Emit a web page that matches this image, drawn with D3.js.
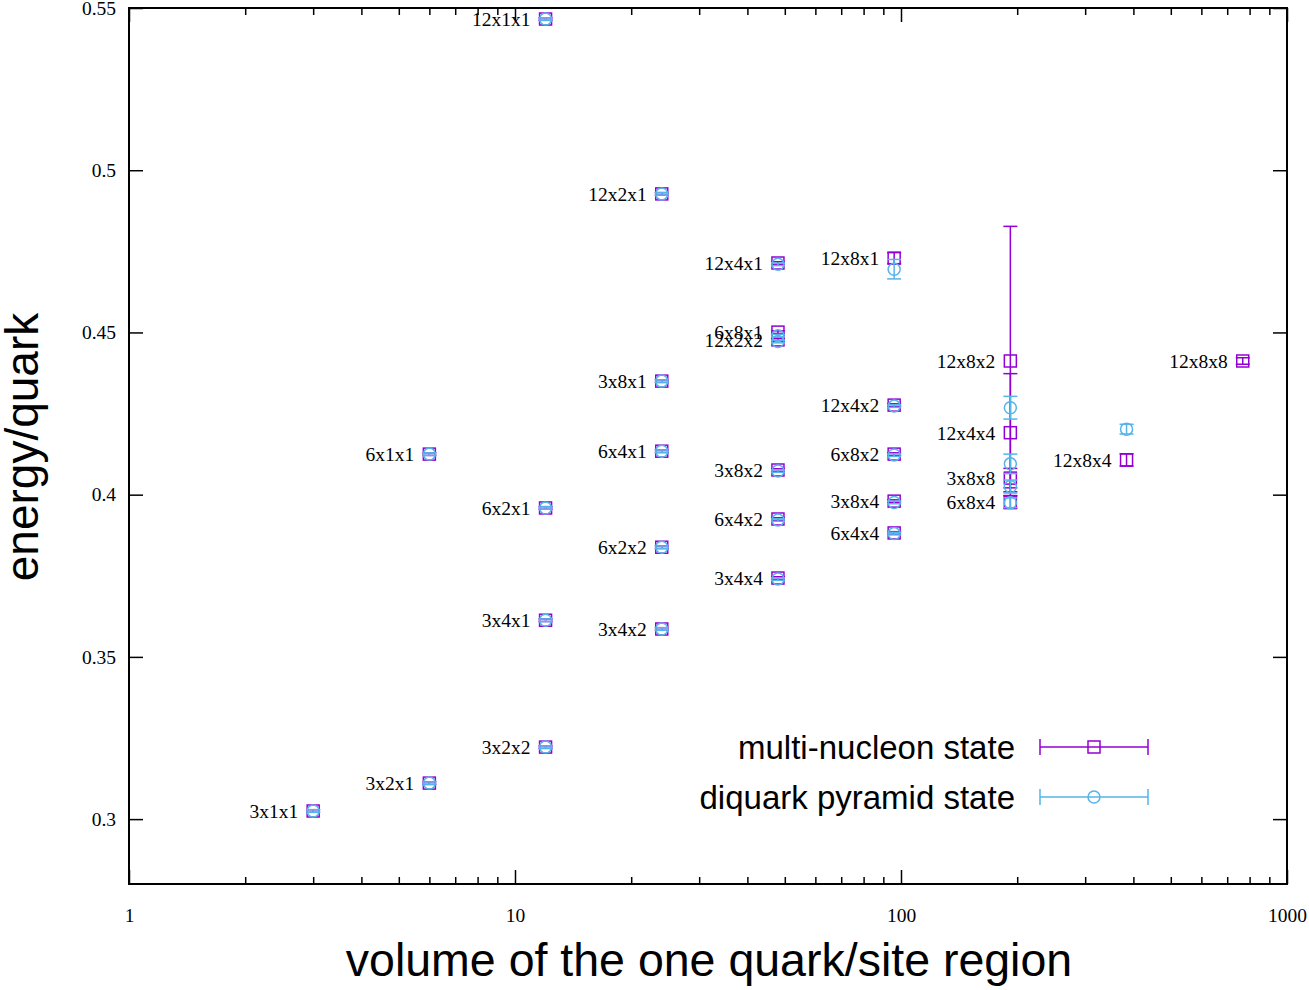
<!DOCTYPE html>
<html>
<head>
<meta charset="utf-8">
<script src="https://cdn.jsdelivr.net/npm/d3@7"></script>
<style>
  body { margin: 0; background: #fff; }
  svg { display: block; }
</style>
</head>
<body>
<svg id="chart" width="1309" height="990"></svg>
<script>
// lattice configurations, the volume of the one quark/site region
let configs = ["3x1x1", "3x2x1", "6x1x1", "12x1x1", "3x2x2", "6x2x1", "3x4x1",
               "12x2x1", "3x8x1", "6x4x1", "6x2x2", "3x4x2",
               "12x4x1", "6x8x1", "12x2x2", "3x8x2", "6x4x2", "3x4x4",
               "12x8x1", "12x4x2", "6x8x2", "3x8x4", "6x4x4",
               "12x8x2", "12x4x4", "3x8x8", "6x8x4",
               "12x8x4", "12x8x8"];
let volumes = [3, 6, 6, 12, 12, 12, 12,
               24, 24, 24, 24, 24,
               48, 48, 48, 48, 48, 48,
               96, 96, 96, 96, 96,
               192, 192, 192, 192,
               384, 768];
// multi-nucleon state
let multiE = [0.3025, 0.3111, 0.4125, 0.5466, 0.3222, 0.3959, 0.3613,
              0.4927, 0.4350, 0.4134, 0.3838, 0.3586,
              0.4714, 0.4501, 0.4477, 0.4076, 0.3925, 0.3743,
              0.4729, 0.4276, 0.4125, 0.3980, 0.3882,
              0.4412, 0.4191, 0.4051, 0.3977,
              0.4107, 0.4412];
let multiErr = [0.0004, 0.0004, 0.0004, 0.0004, 0.0004, 0.0004, 0.0004,
                0.0004, 0.0004, 0.0004, 0.0004, 0.0004,
                0.0004, 0.0004, 0.0004, 0.0004, 0.0004, 0.0004,
                0.0017, 0.0004, 0.0004, 0.0004, 0.0004,
                0.0415, 0.0182, 0.0030, 0.0020,
                0.0019, 0.0010];
// diquark pyramid state (none for 12x8x8)
let diqE = [0.3025, 0.3111, 0.4125, 0.5466, 0.3222, 0.3959, 0.3613,
            0.4927, 0.4350, 0.4134, 0.3838, 0.3586,
            0.4710, 0.4490, 0.4472, 0.4073, 0.3922, 0.3740,
            0.4695, 0.4273, 0.4122, 0.3976, 0.3880,
            0.4268, 0.4095, 0.4025, 0.3975,
            0.4202, null];
let diqErr = [0.0004, 0.0004, 0.0004, 0.0004, 0.0004, 0.0004, 0.0004,
              0.0004, 0.0004, 0.0004, 0.0004, 0.0004,
              0.0004, 0.0004, 0.0004, 0.0004, 0.0004, 0.0004,
              0.0030, 0.0004, 0.0004, 0.0004, 0.0004,
              0.0035, 0.0030, 0.0020, 0.0015,
              0.0015, null];

let yTicks = [0.3, 0.35, 0.4, 0.45, 0.5, 0.55];
let xMajor = [1, 10, 100, 1000];
let seriesNames = ["multi-nucleon state", "diquark pyramid state"];
let seriesColors = ["#9400d3", "#56b4e9"];

let plotLeft = 129, plotRight = 1287, plotTop = 8, plotBottom = 884;
let svg = d3.select('#chart');

let x = d3.scaleLog().domain([1, 1000]).range([plotLeft, plotRight]);
let y = d3.scaleLinear().domain([0.28, 0.55]).range([plotBottom, plotTop]);

let xMinor = x.ticks().filter(function (d) { return xMajor.indexOf(d) < 0; });

function styleAxis(g) {
    g.select('.domain').remove();
    g.selectAll('line').attr('stroke', '#000').attr('stroke-width', 1.5);
    g.selectAll('text').attr('font-family', 'Liberation Serif, Times New Roman, serif')
        .attr('font-size', 19.5).attr('fill', '#000');
}

// bottom axis with labels
svg.append('g').attr('transform', 'translate(0,' + plotBottom + ')')
    .call(d3.axisBottom(x).tickValues(xMajor).tickSize(-14).tickPadding(24)
        .tickFormat(function (d) { return d; }))
    .call(styleAxis);
svg.append('g').attr('transform', 'translate(0,' + plotBottom + ')')
    .call(d3.axisBottom(x).tickValues(xMinor).tickSize(-7).tickFormat(''))
    .call(styleAxis);
// top axis, mirrored
svg.append('g').attr('transform', 'translate(0,' + plotTop + ')')
    .call(d3.axisTop(x).tickValues(xMajor).tickSize(-14).tickFormat(''))
    .call(styleAxis);
svg.append('g').attr('transform', 'translate(0,' + plotTop + ')')
    .call(d3.axisTop(x).tickValues(xMinor).tickSize(-7).tickFormat(''))
    .call(styleAxis);
// left and right
svg.append('g').attr('transform', 'translate(' + plotLeft + ',0)')
    .call(d3.axisLeft(y).tickValues(yTicks).tickSize(-14).tickPadding(13)
        .tickFormat(function (d) { return d3.format('')(d); }))
    .call(styleAxis);
svg.append('g').attr('transform', 'translate(' + plotRight + ',0)')
    .call(d3.axisRight(y).tickValues(yTicks).tickSize(-14).tickFormat(''))
    .call(styleAxis);

svg.append('rect')
    .attr('x', plotLeft).attr('y', plotTop)
    .attr('width', plotRight - plotLeft).attr('height', plotBottom - plotTop)
    .attr('fill', 'none').attr('stroke', '#000').attr('stroke-width', 2);

// axis titles
svg.append('text')
    .attr('x', (plotLeft + plotRight) / 2 + 1).attr('y', 976)
    .attr('text-anchor', 'middle')
    .attr('font-family', 'Liberation Sans, Arial, Helvetica, sans-serif')
    .attr('font-size', 46.5)
    .text('volume of the one quark/site region');
svg.append('text')
    .attr('transform', 'translate(38,447) rotate(-90)')
    .attr('text-anchor', 'middle')
    .attr('font-family', 'Liberation Sans, Arial, Helvetica, sans-serif')
    .attr('font-size', 46)
    .text('energy/quark');

// data
let multiData = configs.map(function (c, i) {
    return { name: c, v: volumes[i], e: multiE[i], err: multiErr[i] };
});
let diqData = configs.map(function (c, i) {
    return { name: c, v: volumes[i], e: diqE[i], err: diqErr[i] };
}).filter(function (d) { return d.e !== null; });

let cap = 7;

function drawErrorBars(g, data, color) {
    let eb = g.selectAll('g.eb').data(data).join('g').attr('class', 'eb')
        .attr('stroke', color).attr('stroke-width', 1.5).attr('fill', 'none');
    eb.append('line')
        .attr('x1', function (d) { return x(d.v); })
        .attr('x2', function (d) { return x(d.v); })
        .attr('y1', function (d) { return y(d.e - d.err); })
        .attr('y2', function (d) { return y(d.e + d.err); });
    eb.append('line')
        .attr('x1', function (d) { return x(d.v) - cap; })
        .attr('x2', function (d) { return x(d.v) + cap; })
        .attr('y1', function (d) { return y(d.e - d.err); })
        .attr('y2', function (d) { return y(d.e - d.err); });
    eb.append('line')
        .attr('x1', function (d) { return x(d.v) - cap; })
        .attr('x2', function (d) { return x(d.v) + cap; })
        .attr('y1', function (d) { return y(d.e + d.err); })
        .attr('y2', function (d) { return y(d.e + d.err); });
}

let gMulti = svg.append('g');
drawErrorBars(gMulti, multiData, seriesColors[0]);
gMulti.selectAll('rect.pt').data(multiData).join('rect').attr('class', 'pt')
    .attr('x', function (d) { return x(d.v) - 6; })
    .attr('y', function (d) { return y(d.e) - 6; })
    .attr('width', 12).attr('height', 12)
    .attr('fill', 'none').attr('stroke', seriesColors[0]).attr('stroke-width', 1.5);

let gDiq = svg.append('g');
drawErrorBars(gDiq, diqData, seriesColors[1]);
gDiq.selectAll('circle.pt').data(diqData).join('circle').attr('class', 'pt')
    .attr('cx', function (d) { return x(d.v); })
    .attr('cy', function (d) { return y(d.e); })
    .attr('r', 6)
    .attr('fill', 'none').attr('stroke', seriesColors[1]).attr('stroke-width', 1.5);

// point labels
svg.append('g').selectAll('text').data(multiData).join('text')
    .attr('x', function (d) { return x(d.v) - 15; })
    .attr('y', function (d) { return y(d.e); })
    .attr('dy', '0.35em')
    .attr('text-anchor', 'end')
    .attr('font-family', 'Liberation Serif, Times New Roman, serif')
    .attr('font-size', 19.5)
    .text(function (d) { return d.name; });

// legend
let legendY = [747, 797];
seriesNames.forEach(function (name, i) {
    let g = svg.append('g');
    let ly = legendY[i];
    g.append('text')
        .attr('x', 1015).attr('y', ly).attr('dy', '0.36em')
        .attr('text-anchor', 'end')
        .attr('font-family', 'Liberation Sans, Arial, Helvetica, sans-serif')
        .attr('font-size', 33)
        .text(name);
    let s = g.append('g').attr('stroke', seriesColors[i]).attr('stroke-width', 1.5).attr('fill', 'none');
    s.append('line').attr('x1', 1040).attr('x2', 1148).attr('y1', ly).attr('y2', ly);
    s.append('line').attr('x1', 1040).attr('x2', 1040).attr('y1', ly - 8).attr('y2', ly + 8);
    s.append('line').attr('x1', 1148).attr('x2', 1148).attr('y1', ly - 8).attr('y2', ly + 8);
    if (i === 0) {
        s.append('rect').attr('x', 1088).attr('y', ly - 6).attr('width', 12).attr('height', 12);
    } else {
        s.append('circle').attr('cx', 1094).attr('cy', ly).attr('r', 6);
    }
});
</script>
</body>
</html>
